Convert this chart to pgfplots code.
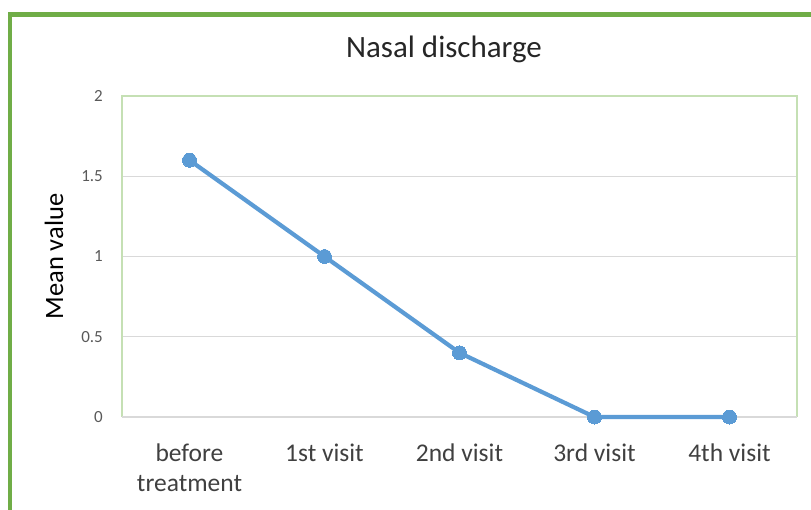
\documentclass[border=0pt]{standalone}
\usepackage{fontspec}
\setmainfont{Carlito}
\usepackage{pgfplots}
\pgfplotsset{compat=1.18}
\definecolor{framegreen}{HTML}{70AD47}
\definecolor{plotgreen}{HTML}{C5E0B4}
\definecolor{gridgray}{HTML}{D9D9D9}
\definecolor{lineblue}{HTML}{5B9BD5}
\definecolor{ticktext}{HTML}{595959}
\definecolor{labeltext}{HTML}{404040}
\definecolor{titletext}{HTML}{262626}
\begin{document}
\begin{tikzpicture}
\useasboundingbox (-122pt,-92pt) rectangle (689pt,417pt);
\begin{axis}[
  scale only axis,
  width=675pt, height=321pt,
  xmin=-0.5, xmax=4.5,
  ymin=0, ymax=2,
  xtick={0,1,2,3,4},
  xticklabels={{before\\treatment},{1st visit},{2nd visit},{3rd visit},{4th visit}},
  ytick={0,0.5,1,1.5,2},
  yticklabels={0,0.5,1,1.5,2},
  major tick length=0pt,
  axis line style={draw=none},
  ymajorgrids,
  grid style={gridgray, line width=1pt},
  xticklabel style={align=center, anchor=north, inner sep=0pt, yshift=-27pt,
    font={\fontsize{25.5}{30}\selectfont}, text=labeltext},
  yticklabel style={anchor=east, inner sep=0pt, xshift=-19pt,
    font={\fontsize{17}{20}\selectfont}, text=ticktext},
  title={Nasal discharge},
  title style={at={(axis description cs:0.477,1.0997)}, anchor=base, inner sep=0pt,
    font={\fontsize{31}{36}\selectfont}, text=titletext},
  ylabel={Mean value},
  ylabel style={at={(axis description cs:-0.0874,0.5)}, anchor=base, inner sep=0pt,
    font={\fontsize{26.5}{30}\selectfont}, text=black},
  clip=false,
]
\draw[plotgreen, line width=1.5pt] (rel axis cs:0,0) -- (rel axis cs:0,1) -- (rel axis cs:1,1) -- (rel axis cs:1,0);
\draw[gridgray, line width=1.5pt] (rel axis cs:0,0) -- (rel axis cs:1,0);
\addplot[lineblue, line width=4.2pt, mark=*, mark size=7pt,
  mark options={fill=lineblue, draw=lineblue, line width=0pt}]
  coordinates {(0,1.6) (1,1.0) (2,0.4) (3,0) (4,0)};
\end{axis}
\draw[framegreen, line width=4.5pt] (-112pt,-100pt) -- (-112pt,402.5pt) -- (700pt,402.5pt);
\end{tikzpicture}
\end{document}
